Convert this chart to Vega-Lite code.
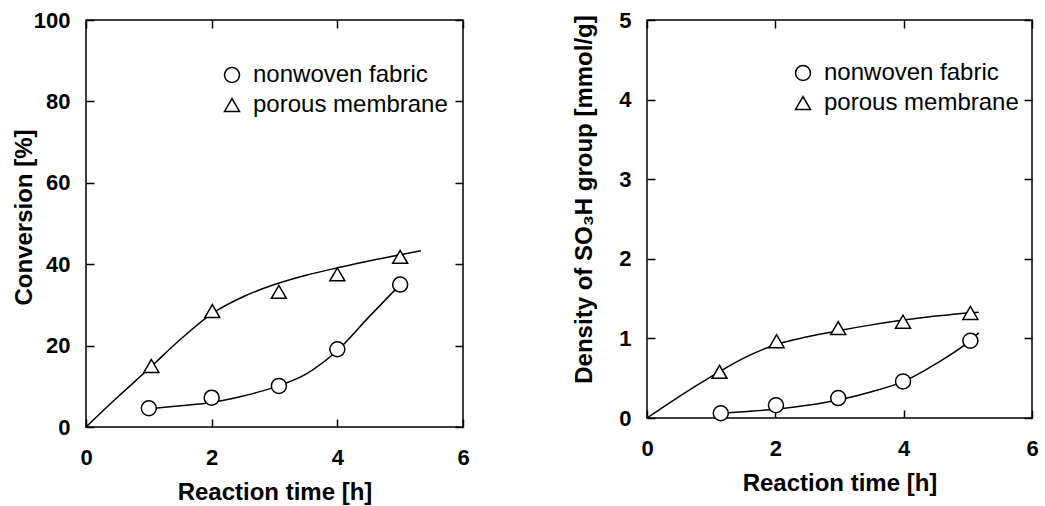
{
  "$schema": "https://vega.github.io/schema/vega-lite/v6.json",
  "background": "white",
  "padding": {"left": 11, "top": 8, "right": 2, "bottom": 3},
  "config": {
    "font": "Liberation Sans",
    "view": {"stroke": "black", "strokeWidth": 1.5},
    "axis": {
      "grid": false, "domain": false, "offset": -8, "labelFlush": false,
      "tickColor": "black", "tickSize": 8, "tickWidth": 1.5,
      "labelFont": "Liberation Sans", "labelFontWeight": "bold", "labelFontSize": 22, "labelColor": "black",
      "titleFont": "Liberation Sans", "titleFontSize": 24, "titleFontWeight": "bold", "titleColor": "black"
    },
    "legend": {
      "padding": 0,
      "labelFont": "Liberation Sans", "labelFontSize": 24, "labelColor": "black", "labelLimit": 400,
      "symbolSize": 225,
      "labelOffset": 9, "rowPadding": 6
    }
  },
  "datasets": {
    "conv_pts": [
      {"time": 1.0, "value": 4.6, "material": "nonwoven fabric"},
      {"time": 2.0, "value": 7.2, "material": "nonwoven fabric"},
      {"time": 3.07, "value": 10.1, "material": "nonwoven fabric"},
      {"time": 4.0, "value": 19.1, "material": "nonwoven fabric"},
      {"time": 5.0, "value": 35.0, "material": "nonwoven fabric"},
      {"time": 1.04, "value": 15.0, "material": "porous membrane"},
      {"time": 2.01, "value": 28.5, "material": "porous membrane"},
      {"time": 3.07, "value": 33.2, "material": "porous membrane"},
      {"time": 4.0, "value": 37.5, "material": "porous membrane"},
      {"time": 5.0, "value": 41.8, "material": "porous membrane"}
    ],
    "conv_curve": [
      {"time": 1.0, "value": 4.5, "material": "nonwoven fabric"},
      {"time": 1.5, "value": 5.2, "material": "nonwoven fabric"},
      {"time": 2.0, "value": 6.0, "material": "nonwoven fabric"},
      {"time": 2.5, "value": 7.6, "material": "nonwoven fabric"},
      {"time": 3.0, "value": 9.8, "material": "nonwoven fabric"},
      {"time": 3.5, "value": 13.0, "material": "nonwoven fabric"},
      {"time": 4.0, "value": 18.8, "material": "nonwoven fabric"},
      {"time": 4.5, "value": 27.0, "material": "nonwoven fabric"},
      {"time": 5.0, "value": 35.0, "material": "nonwoven fabric"},
      {"time": 0.0, "value": 0.0, "material": "porous membrane"},
      {"time": 0.5, "value": 7.3, "material": "porous membrane"},
      {"time": 1.0, "value": 14.3, "material": "porous membrane"},
      {"time": 1.5, "value": 21.5, "material": "porous membrane"},
      {"time": 2.0, "value": 27.8, "material": "porous membrane"},
      {"time": 2.5, "value": 32.0, "material": "porous membrane"},
      {"time": 3.0, "value": 35.0, "material": "porous membrane"},
      {"time": 3.5, "value": 37.3, "material": "porous membrane"},
      {"time": 4.0, "value": 39.1, "material": "porous membrane"},
      {"time": 4.5, "value": 40.8, "material": "porous membrane"},
      {"time": 5.0, "value": 42.3, "material": "porous membrane"},
      {"time": 5.33, "value": 43.3, "material": "porous membrane"}
    ],
    "dens_pts": [
      {"time": 1.15, "value": 0.06, "material": "nonwoven fabric"},
      {"time": 2.01, "value": 0.16, "material": "nonwoven fabric"},
      {"time": 2.98, "value": 0.25, "material": "nonwoven fabric"},
      {"time": 3.99, "value": 0.46, "material": "nonwoven fabric"},
      {"time": 5.04, "value": 0.97, "material": "nonwoven fabric"},
      {"time": 1.13, "value": 0.58, "material": "porous membrane"},
      {"time": 2.02, "value": 0.965, "material": "porous membrane"},
      {"time": 2.98, "value": 1.13, "material": "porous membrane"},
      {"time": 3.99, "value": 1.21, "material": "porous membrane"},
      {"time": 5.04, "value": 1.32, "material": "porous membrane"}
    ],
    "dens_curve": [
      {"time": 1.15, "value": 0.06, "material": "nonwoven fabric"},
      {"time": 1.5, "value": 0.08, "material": "nonwoven fabric"},
      {"time": 2.0, "value": 0.11, "material": "nonwoven fabric"},
      {"time": 2.5, "value": 0.16, "material": "nonwoven fabric"},
      {"time": 3.0, "value": 0.23, "material": "nonwoven fabric"},
      {"time": 3.5, "value": 0.33, "material": "nonwoven fabric"},
      {"time": 4.0, "value": 0.46, "material": "nonwoven fabric"},
      {"time": 4.5, "value": 0.68, "material": "nonwoven fabric"},
      {"time": 5.0, "value": 0.95, "material": "nonwoven fabric"},
      {"time": 5.17, "value": 1.07, "material": "nonwoven fabric"},
      {"time": 0.0, "value": 0.0, "material": "porous membrane"},
      {"time": 0.5, "value": 0.27, "material": "porous membrane"},
      {"time": 1.0, "value": 0.52, "material": "porous membrane"},
      {"time": 1.5, "value": 0.75, "material": "porous membrane"},
      {"time": 2.0, "value": 0.92, "material": "porous membrane"},
      {"time": 2.5, "value": 1.02, "material": "porous membrane"},
      {"time": 3.0, "value": 1.1, "material": "porous membrane"},
      {"time": 3.5, "value": 1.17, "material": "porous membrane"},
      {"time": 4.0, "value": 1.23, "material": "porous membrane"},
      {"time": 4.5, "value": 1.28, "material": "porous membrane"},
      {"time": 5.0, "value": 1.32, "material": "porous membrane"},
      {"time": 5.17, "value": 1.33, "material": "porous membrane"}
    ]
  },
  "spacing": 102,
  "resolve": {"scale": {"shape": "independent"}, "legend": {"shape": "independent"}},
  "hconcat": [
    {
      "width": 377,
      "height": 407,
      "layer": [
        {
          "data": {"name": "conv_curve"},
          "mark": {"type": "line", "interpolate": "monotone", "color": "black", "strokeWidth": 1.5},
          "encoding": {
            "x": {"field": "time", "type": "quantitative", "scale": {"domain": [0, 6], "nice": false},
                  "axis": {"orient": "bottom", "values": [0, 2, 4, 6], "title": "Reaction time [h]", "labelPadding": 20, "titlePadding": 12}},
            "y": {"field": "value", "type": "quantitative", "scale": {"domain": [0, 100], "nice": false},
                  "axis": {"orient": "left", "values": [0, 20, 40, 60, 80, 100], "title": "Conversion [%]", "labelPadding": 16, "titlePadding": -3, "titleY": 197}},
            "detail": {"field": "material", "type": "nominal"}
          }
        },
        {
          "data": {"name": "conv_pts"},
          "mark": {"type": "point", "filled": false, "fill": "white", "color": "black", "strokeWidth": 1.5, "size": 225, "opacity": 1, "fillOpacity": 1},
          "encoding": {
            "x": {"field": "time", "type": "quantitative",
                  "axis": {"orient": "top", "values": [0, 2, 4, 6], "labels": false, "title": null}},
            "y": {"field": "value", "type": "quantitative",
                  "axis": {"orient": "right", "values": [0, 20, 40, 60, 80, 100], "labels": false, "title": null}},
            "shape": {"field": "material", "type": "nominal",
                      "scale": {"domain": ["nonwoven fabric", "porous membrane"], "range": ["circle", "triangle-up"]},
                      "legend": {"orient": "none", "title": null, "legendX": 134, "legendY": 43}}
          }
        }
      ],
      "resolve": {"axis": {"x": "independent", "y": "independent"}}
    },
    {
      "width": 385,
      "height": 398,
      "layer": [
        {
          "data": {"name": "dens_curve"},
          "mark": {"type": "line", "interpolate": "monotone", "color": "black", "strokeWidth": 1.5},
          "encoding": {
            "x": {"field": "time", "type": "quantitative", "scale": {"domain": [0, 6], "nice": false},
                  "axis": {"orient": "bottom", "values": [0, 2, 4, 6], "title": "Reaction time [h]", "labelPadding": 20, "titlePadding": 12}},
            "y": {"field": "value", "type": "quantitative", "scale": {"domain": [0, 5], "nice": false},
                  "axis": {"orient": "left", "values": [0, 1, 2, 3, 4, 5], "title": "Density of SO₃H group [mmol/g]", "labelPadding": 16, "titlePadding": 22, "titleY": 179}},
            "detail": {"field": "material", "type": "nominal"}
          }
        },
        {
          "data": {"name": "dens_pts"},
          "mark": {"type": "point", "filled": false, "fill": "white", "color": "black", "strokeWidth": 1.5, "size": 225, "opacity": 1, "fillOpacity": 1},
          "encoding": {
            "x": {"field": "time", "type": "quantitative",
                  "axis": {"orient": "top", "values": [0, 2, 4, 6], "labels": false, "title": null}},
            "y": {"field": "value", "type": "quantitative",
                  "axis": {"orient": "right", "values": [0, 1, 2, 3, 4, 5], "labels": false, "title": null}},
            "shape": {"field": "material", "type": "nominal",
                      "scale": {"domain": ["nonwoven fabric", "porous membrane"], "range": ["circle", "triangle-up"]},
                      "legend": {"orient": "none", "title": null, "legendX": 144, "legendY": 41}}
          }
        }
      ],
      "resolve": {"axis": {"x": "independent", "y": "independent"}}
    }
  ]
}
